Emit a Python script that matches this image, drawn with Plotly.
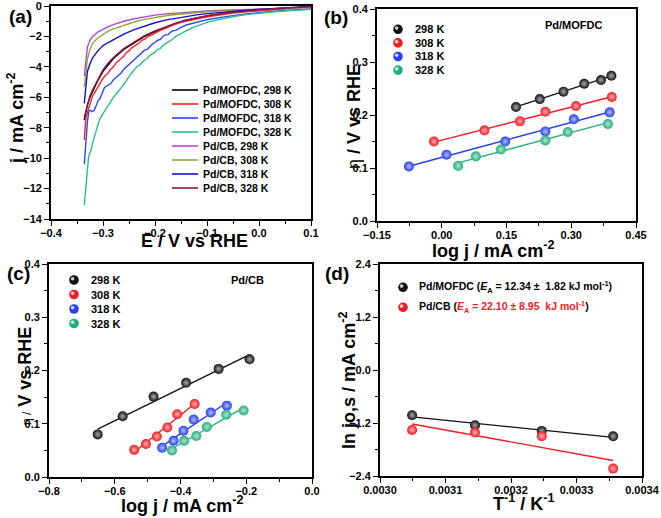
import numpy as np
import plotly.graph_objects as go

W, H = 661, 518
FONT = "Arial, Liberation Sans, sans-serif"

# ---------------- panel (a): LSV curves ----------------
E_smooth = [-0.336, -0.333, -0.33, -0.325, -0.32, -0.31, -0.30, -0.29, -0.28, -0.26, -0.24, -0.22,
            -0.20, -0.18, -0.16, -0.14, -0.12, -0.10, -0.07, -0.04, 0.0, 0.05, 0.10]
j_mofdc_298 = [-7.5, -7.0, -6.5, -6.0, -5.6, -4.9, -4.3, -3.85, -3.45, -2.85, -2.4, -2.0,
               -1.68, -1.4, -1.15, -0.95, -0.8, -0.66, -0.5, -0.38, -0.27, -0.15, -0.05]
j_cb_328 = [-7.3, -6.9, -6.4, -5.9, -5.5, -4.8, -4.2, -3.75, -3.38, -2.8, -2.35, -1.95,
            -1.63, -1.36, -1.12, -0.92, -0.77, -0.64, -0.48, -0.36, -0.25, -0.13, -0.02]
j_cb_318 = [-6.4, -5.3, -4.3, -3.8, -3.4, -2.95, -2.6, -2.4, -2.2, -1.85, -1.55, -1.3,
            -1.1, -0.93, -0.8, -0.68, -0.58, -0.5, -0.4, -0.32, -0.22, -0.12, -0.04]
j_cb_308 = [-5.3, -4.2, -3.5, -2.85, -2.45, -2.1, -1.85, -1.65, -1.5, -1.25, -1.05, -0.88,
            -0.75, -0.64, -0.56, -0.49, -0.43, -0.38, -0.32, -0.27, -0.21, -0.14, -0.08]
j_cb_298 = [-4.6, -3.4, -2.7, -2.25, -2.0, -1.72, -1.52, -1.36, -1.22, -1.0, -0.84, -0.71,
            -0.6, -0.52, -0.46, -0.41, -0.37, -0.33, -0.28, -0.24, -0.19, -0.13, -0.08]

E_mofdc_308 = [-0.336, -0.333, -0.33, -0.327, -0.324, -0.32, -0.316, -0.312, -0.308, -0.304, -0.30,
               -0.295, -0.29, -0.285, -0.28, -0.275, -0.27, -0.265, -0.26, -0.255, -0.25, -0.245,
               -0.24, -0.235, -0.23, -0.225, -0.22, -0.212, -0.205, -0.195, -0.185, -0.175, -0.165,
               -0.15, -0.13, -0.11, -0.09, -0.07, -0.05, -0.02, 0.0, 0.05, 0.1]
j_mofdc_308 = [-8.8, -7.4, -7.0, -6.7, -6.3, -5.9, -5.7, -5.45, -5.3, -4.95, -4.75,
               -4.55, -4.4, -4.15, -4.0, -3.75, -3.6, -3.4, -3.3, -3.05, -2.95, -2.75,
               -2.65, -2.5, -2.42, -2.25, -2.18, -1.97, -1.9, -1.68, -1.52, -1.38, -1.25,
               -1.08, -0.9, -0.77, -0.66, -0.56, -0.47, -0.37, -0.31, -0.18, -0.05]

E_mofdc_318 = [-0.336, -0.334, -0.332, -0.33, -0.327, -0.324, -0.321, -0.318, -0.315, -0.312, -0.309,
               -0.306, -0.303, -0.30, -0.297, -0.294, -0.29, -0.285, -0.28, -0.275, -0.27, -0.265,
               -0.26, -0.255, -0.25, -0.245, -0.24, -0.235, -0.23, -0.225, -0.22, -0.215, -0.21,
               -0.205, -0.20, -0.195, -0.19, -0.185, -0.18, -0.175, -0.17, -0.165, -0.16, -0.155,
               -0.15, -0.14, -0.13, -0.12, -0.10, -0.08, -0.06, -0.04, -0.02, 0.0, 0.03, 0.06, 0.1]
j_mofdc_318 = [-10.4, -9.4, -8.6, -7.6, -6.9, -6.85, -6.95, -6.9, -6.7, -6.4, -6.2,
               -6.1, -5.9, -5.6, -5.35, -5.3, -5.2, -5.1, -4.85, -4.7, -4.5, -4.4,
               -4.15, -4.0, -3.85, -3.7, -3.55, -3.35, -3.2, -3.05, -2.9, -2.85, -2.65,
               -2.5, -2.4, -2.25, -2.2, -2.0, -1.9, -1.9, -1.72, -1.62, -1.6, -1.47,
               -1.4, -1.25, -1.15, -1.05, -0.9, -0.78, -0.67, -0.58, -0.5, -0.43, -0.35, -0.28, -0.2]

E_mofdc_328 = [-0.336, -0.334, -0.332, -0.33, -0.328, -0.326, -0.323, -0.32, -0.316, -0.312, -0.308,
               -0.304, -0.30, -0.295, -0.29, -0.285, -0.28, -0.275, -0.27, -0.265, -0.26, -0.255,
               -0.25, -0.245, -0.24, -0.235, -0.23, -0.225, -0.22, -0.215, -0.21, -0.205, -0.20,
               -0.195, -0.19, -0.185, -0.18, -0.175, -0.17, -0.165, -0.16, -0.155, -0.15, -0.14,
               -0.13, -0.12, -0.11, -0.10, -0.08, -0.06, -0.04, -0.02, 0.0, 0.03, 0.06, 0.1]
j_mofdc_328 = [-13.1, -12.2, -11.4, -10.6, -10.0, -9.7, -9.5, -9.0, -8.5, -8.0, -7.6,
               -7.3, -7.05, -6.8, -6.55, -6.25, -6.0, -5.8, -5.6, -5.35, -5.15, -4.9,
               -4.6, -4.4, -4.2, -4.0, -3.9, -3.7, -3.55, -3.45, -3.25, -3.15, -3.05,
               -2.85, -2.8, -2.6, -2.5, -2.4, -2.25, -2.15, -2.0, -1.9, -1.8, -1.62,
               -1.45, -1.32, -1.2, -1.08, -0.9, -0.76, -0.64, -0.55, -0.47, -0.38, -0.3, -0.22]

lsv_names = ["Pd/MOFDC, 298 K", "Pd/MOFDC, 308 K", "Pd/MOFDC, 318 K", "Pd/MOFDC, 328 K",
             "Pd/CB, 298 K", "Pd/CB, 308 K", "Pd/CB, 318 K", "Pd/CB, 328 K"]
lsv_colors = ["#000000", "#f5222a", "#2c45ff", "#27c08a", "#b845d0", "#8aa83a", "#1010d0", "#8a1848"]
lsv_E = [E_smooth, E_mofdc_308, E_mofdc_318, E_mofdc_328, E_smooth, E_smooth, E_smooth, E_smooth]
lsv_j = [j_mofdc_298, j_mofdc_308, j_mofdc_318, j_mofdc_328, j_cb_298, j_cb_308, j_cb_318, j_cb_328]

# ---------------- panel (b): Tafel Pd/MOFDC ----------------
temps = ["298 K", "308 K", "318 K", "328 K"]
t_colors = ["#111111", "#f01c24", "#2740f0", "#22b07a"]
b_logj = [[0.172, 0.227, 0.282, 0.330, 0.369, 0.393],
          [-0.018, 0.099, 0.181, 0.240, 0.311, 0.394],
          [-0.076, 0.011, 0.147, 0.240, 0.306, 0.389],
          [0.038, 0.079, 0.137, 0.240, 0.292, 0.385]]
b_eta = [[0.215, 0.230, 0.244, 0.259, 0.266, 0.274],
         [0.150, 0.171, 0.188, 0.206, 0.217, 0.234],
         [0.103, 0.125, 0.150, 0.169, 0.192, 0.205],
         [0.104, 0.122, 0.135, 0.152, 0.168, 0.183]]

# ---------------- panel (c): Tafel Pd/CB ----------------
c_logj = [[-0.652, -0.576, -0.482, -0.383, -0.284, -0.190],
          [-0.541, -0.505, -0.472, -0.440, -0.410, -0.357],
          [-0.456, -0.421, -0.391, -0.360, -0.308, -0.259],
          [-0.426, -0.389, -0.352, -0.320, -0.261, -0.208]]
c_eta = [[0.080, 0.114, 0.151, 0.177, 0.203, 0.221],
         [0.051, 0.062, 0.076, 0.093, 0.118, 0.137],
         [0.055, 0.068, 0.087, 0.108, 0.121, 0.134],
         [0.050, 0.068, 0.077, 0.094, 0.117, 0.125]]

# ---------------- panel (d): Arrhenius ----------------
inv_T = [0.003049, 0.003145, 0.003247, 0.003356]
ln_j0_mofdc = [-1.024, -1.251, -1.379, -1.500]
ln_j0_cb = [-1.357, -1.417, -1.500, -2.233]
d_names = ["Pd/MOFDC", "Pd/CB"]
d_colors = ["#111111", "#f01c24"]


def px(x):
    return x / W


def py(y):
    return 1 - y / H


def tint(c, f=0.75):
    c = c.lstrip("#")
    r, g, b = int(c[0:2], 16), int(c[2:4], 16), int(c[4:6], 16)
    r, g, b = [int(v + (255 - v) * f) for v in (r, g, b)]
    return f"rgb({r},{g},{b})"


fig = go.Figure()

for name, col, E, j in zip(lsv_names, lsv_colors, lsv_E, lsv_j):
    fig.add_trace(go.Scatter(x=E, y=j, mode="lines", name=name, line=dict(color=col, width=1.4),
                             xaxis="x", yaxis="y", showlegend=False))


def tafel(xs, ys, axx, axy):
    for t, col, xv, yv in zip(temps, t_colors, xs, ys):
        k, b0 = np.polyfit(xv, yv, 1)
        xl = np.array([min(xv), max(xv)])
        fig.add_trace(go.Scatter(x=xl, y=k * xl + b0, mode="lines", line=dict(color=col, width=1.4),
                                 xaxis=axx, yaxis=axy, showlegend=False))
        fig.add_trace(go.Scatter(x=xv, y=yv, mode="markers", name=t, xaxis=axx, yaxis=axy, showlegend=False,
                                 marker=dict(size=10, color=col, line=dict(width=0),
                                             gradient=dict(type="radial", color=tint(col, 0.65)))))


tafel(b_logj, b_eta, "x2", "y2")
tafel(c_logj, c_eta, "x3", "y3")

for name, col, yv in zip(d_names, d_colors, [ln_j0_mofdc, ln_j0_cb]):
    k, b0 = np.polyfit(inv_T, yv, 1)
    xl = np.array([min(inv_T), max(inv_T)])
    fig.add_trace(go.Scatter(x=xl, y=k * xl + b0, mode="lines", line=dict(color=col, width=1.4),
                             xaxis="x4", yaxis="y4", showlegend=False))
    fig.add_trace(go.Scatter(x=inv_T, y=yv, mode="markers", name=name, xaxis="x4", yaxis="y4", showlegend=False,
                             marker=dict(size=10, color=col, line=dict(width=0),
                                         gradient=dict(type="radial", color=tint(col, 0.65)))))

tickfont = dict(family=FONT, size=11, color="black", weight="bold")


def ax(dom, anchor, rng, dtick, mdtick, fmt, tick0=0, standoff=None):
    d = dict(domain=dom, anchor=anchor, range=rng, dtick=dtick, tick0=tick0, tickformat=fmt,
             showline=True, linecolor="black", linewidth=1.8, mirror=True,
             ticks="outside", ticklen=5, tickwidth=1.4, tickcolor="black", ticklabeloverflow="allow",
             showgrid=False, zeroline=False, tickfont=tickfont, automargin=False,
             minor=dict(dtick=mdtick, tick0=tick0, ticks="outside", ticklen=3, tickwidth=1.2,
                        tickcolor="black", showgrid=False))
    if standoff is not None:
        d["ticklabelstandoff"] = standoff
    return d


fig.update_layout(
    width=W, height=H, template="none", paper_bgcolor="white", plot_bgcolor="white",
    margin=dict(l=0, r=0, t=0, b=0), showlegend=False,
    xaxis=ax([px(51), px(311)], "y", [-0.4, 0.1], 0.1, 0.05, ".1f", standoff=-2),
    yaxis=ax([py(219), py(6)], "x", [-14, 0], 2, 1, "d"),
    xaxis2=ax([px(377), px(636)], "y2", [-0.15, 0.45], 0.15, 0.075, ".2f", standoff=-2),
    yaxis2=ax([py(221), py(9)], "x2", [0, 0.4], 0.1, 0.05, ".1f"),
    xaxis3=ax([px(49), px(312)], "y3", [-0.8, 0.0], 0.2, 0.1, ".1f", standoff=-2),
    yaxis3=ax([py(477), py(264)], "x3", [0, 0.4], 0.1, 0.05, ".1f"),
    xaxis4=ax([px(380), px(642)], "y4", [0.0030, 0.0034], 0.0001, 0.00005, ".4f", tick0=0.003, standoff=-2),
    yaxis4=ax([py(476), py(264)], "x4", [-2.4, 2.4], 1.2, 0.6, ".1f"),
)

annots = []


def note(text, x, y, size, angle=0, xanchor="center", color="black", bold=True):
    annots.append(dict(text=text, x=px(x), y=py(y), xref="paper", yref="paper", showarrow=False,
                       xanchor=xanchor, yanchor="middle", textangle=angle,
                       font=dict(family=FONT, size=size, color=color, weight="bold" if bold else "normal")))


# panel labels
note("(a)", 20, 16, 19)
note("(b)", 336, 17, 19)
note("(c)", 18, 273, 19)
note("(d)", 337, 273, 19)

# axis titles
note("E / V vs RHE", 194, 241, 18)
note("j / mA cm<sup>-2</sup>", 15, 118, 18, angle=-90)
note("log j / mA cm<sup>-2</sup>", 493, 250, 18)
note("<span style='font-weight:normal'>η</span> / V vs RHE", 354, 117, 18, angle=-90)
note("log j / mA cm<sup>-2</sup>", 182, 504, 18)
note("<span style='font-size:12px;font-weight:normal'>η /</span> V vs RHE", 25, 376, 18, angle=-90)
note("T<sup>-1</sup> / K<sup>-1</sup>", 523, 502, 18)
note("ln jo,s / mA cm<sup>-2</sup>", 347, 380, 18, angle=-90)

# sample labels
note("Pd/MOFDC", 573, 25, 11)
note("Pd/CB", 247, 280, 11)

shapes = []

# legend of panel (a)
for i, (name, col) in enumerate(zip(lsv_names, lsv_colors)):
    yy = 90 + 14 * i
    shapes.append(dict(type="line", xref="paper", yref="paper", x0=px(172), x1=px(198), y0=py(yy), y1=py(yy),
                       line=dict(color=col, width=1.6)))
    note(name, 201, yy, 10.5, xanchor="left")


def ball(cx, cy, col, r=4.8):
    shapes.append(dict(type="circle", xref="paper", yref="paper", x0=px(cx - r), x1=px(cx + r),
                       y0=py(cy + r), y1=py(cy - r), fillcolor=col, line=dict(width=0)))
    shapes.append(dict(type="circle", xref="paper", yref="paper", x0=px(cx - 3.2), x1=px(cx + 0.4),
                       y0=py(cy + 0.6), y1=py(cy - 3.0), fillcolor=tint(col, 0.8), line=dict(width=0)))


for i, (t, col) in enumerate(zip(temps, t_colors)):
    yb = 29.3 + 13.6 * i
    ball(398, yb, col)
    note(t, 413, yb, 11, xanchor="left")
    yc = 280 + 14.5 * i
    ball(74, yc, col)
    note(t, 89, yc, 11, xanchor="left")

ball(403, 287.3, d_colors[0])
note("Pd/MOFDC (<i>E</i><sub>A</sub> = 12.34 ±  1.82 kJ mol<sup>-1</sup>)", 417, 287.3, 10.5, xanchor="left")
ball(403, 307.3, d_colors[1])
note("Pd/CB (<span style='color:#f01c24'><i>E</i><sub>A</sub> = 22.10 ± 8.95  kJ mol<sup>-1</sup></span>)",
     417, 307.3, 10.5, xanchor="left")

fig.update_layout(annotations=annots, shapes=shapes)

fig.write_html("out.html", config={"displayModeBar": False},
               post_script="document.body.style.margin='0';")
